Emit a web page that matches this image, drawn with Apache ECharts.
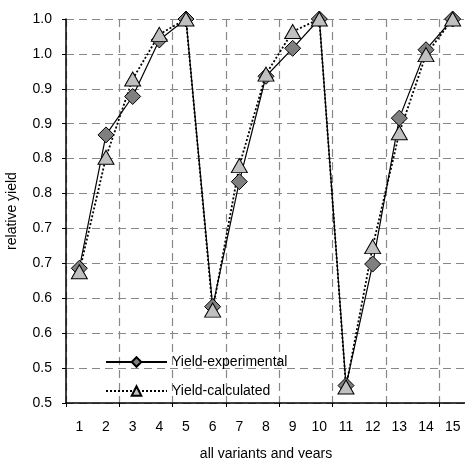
<!DOCTYPE html>
<html><head><meta charset="utf-8">
<script src="https://cdn.jsdelivr.net/npm/echarts@6/dist/echarts.min.js"></script>
<style>html,body{margin:0;padding:0;background:#fff}#c{width:465px;height:458px}</style>
</head><body><div id="c"></div>
<script>
const categories = ['1','2','3','4','5','6','7','8','9','10','11','12','13','14','15'];
const yieldExperimental = [0.693, 0.884, 0.939, 1.020, 1.050, 0.638, 0.817, 0.968, 1.008, 1.050, 0.525, 0.699, 0.908, 1.006, 1.050];
const yieldCalculated   = [0.688, 0.852, 0.964, 1.028, 1.050, 0.633, 0.840, 0.971, 1.032, 1.050, 0.523, 0.724, 0.887, 0.999, 1.050];
const yTickLabels = ['0.5','0.5','0.6','0.6','0.7','0.7','0.8','0.8','0.9','0.9','1.0','1.0'];
const yMin = 0.5, yMax = 1.05, yStep = 0.05;

const font = "'Liberation Sans', Arial, sans-serif";
const chart = echarts.init(document.getElementById('c'), null, {renderer:'canvas'});
chart.setOption({
  animation: false,
  backgroundColor: '#fff',
  textStyle: {fontFamily: font},
  grid: {left: 66, top: 19, width: 400, height: 384, containLabel: false, outerBoundsMode: 'none'},
  legend: {
    orient: 'vertical', left: 100, top: 350,
    itemWidth: 61, itemHeight: 12, itemGap: 15,
    textStyle: {fontFamily: font, fontSize: 14, color: '#000'},
    data: ['Yield-experimental', 'Yield-calculated']
  },
  xAxis: {
    type: 'category', data: categories, boundaryGap: true,
    name: 'all variants and years', nameLocation: 'middle', nameGap: 44,
    nameTextStyle: {fontFamily: font, fontSize: 14, color: '#000'},
    axisLine: {lineStyle: {color: '#000', width: 1.5}},
    axisTick: {show: true, interval: 1, length: 4, lineStyle: {color: '#000'}},
    axisLabel: {interval: 0, margin: 17, fontFamily: font, fontSize: 14, color: '#000'},
    splitLine: {show: true, interval: 1, lineStyle: {color: '#888', type: [8, 5], width: 1.2}}
  },
  yAxis: {
    type: 'value', min: yMin, max: yMax, interval: yStep,
    name: 'relative yield', nameLocation: 'middle', nameGap: 47, nameRotate: 90,
    nameTextStyle: {fontFamily: font, fontSize: 14, color: '#000'},
    axisLine: {show: true, lineStyle: {color: '#000', width: 1.5}},
    axisTick: {show: true, length: 4, lineStyle: {color: '#000'}},
    axisLabel: {margin: 14, fontFamily: font, fontSize: 14, color: '#000',
      formatter: v => yTickLabels[Math.round((v - yMin) / yStep)] || ''},
    splitLine: {show: true, lineStyle: {color: '#888', type: [8, 5], width: 1.2}}
  },
  series: [
    {
      name: 'Yield-experimental', type: 'line', data: yieldExperimental,
      symbol: 'diamond', symbolSize: 16,
      lineStyle: {color: '#000', width: 1.2},
      itemStyle: {color: '#7f7f7f', borderColor: '#000', borderWidth: 1}
    },
    {
      name: 'Yield-calculated', type: 'line', data: yieldCalculated,
      symbol: 'triangle', symbolSize: [16, 14],
      lineStyle: {color: '#000', width: 1.8, type: [2, 2]},
      itemStyle: {color: '#c0c0c0', borderColor: '#000', borderWidth: 1}
    }
  ]
});
</script></body></html>
